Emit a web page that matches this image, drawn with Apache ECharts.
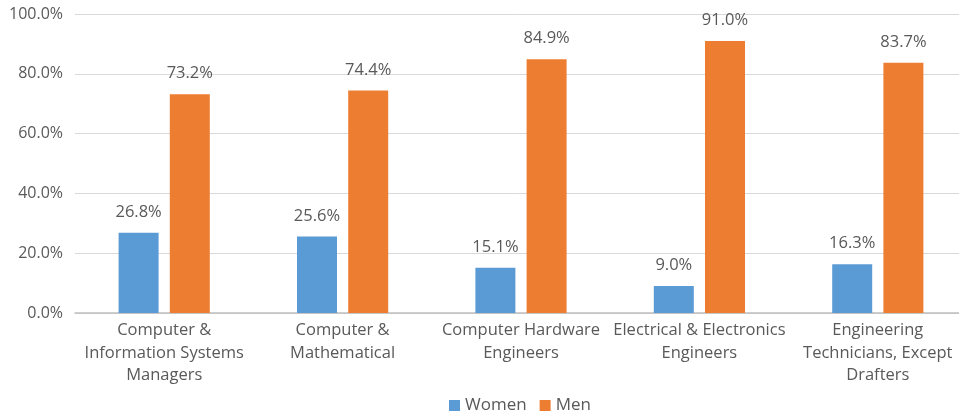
<!DOCTYPE html>
<html>
<head>
<meta charset="utf-8">
<script src="https://cdn.jsdelivr.net/npm/echarts@6/dist/echarts.min.js"></script>
<style>
  html, body { margin: 0; padding: 0; background: #fff; }
  #container { width: 959px; height: 419px; }
</style>
</head>
<body>
<div id="container"></div>
<script>
var categories = [
  'Computer &\nInformation Systems\nManagers',
  'Computer &\nMathematical',
  'Computer Hardware\nEngineers',
  'Electrical & Electronics\nEngineers',
  'Engineering\nTechnicians, Except\nDrafters'
];
var women = [26.8, 25.6, 15.1, 9.0, 16.3];
var men = [73.2, 74.4, 84.9, 91.0, 83.7];

var font = 'Open Sans';
var textColor = '#595959';

var myChart = echarts.init(document.getElementById('container'));

var labelOpt = {
  show: true,
  position: 'top',
  distance: 12,
  color: textColor,
  fontFamily: font,
  fontSize: 16.5,
  formatter: function (p) { return p.value.toFixed(1) + '%'; }
};

var option = {
  animation: false,
  color: ['#5B9BD5', '#ED7D31'],
  grid: {
    left: 75, width: 892, top: 14, height: 299,
    containLabel: false, outerBoundsMode: 'none'
  },
  legend: {
    top: 397,
    left: 449,
    padding: 0,
    itemWidth: 11,
    itemHeight: 11,
    itemGap: 13,
    icon: 'rect',
    textStyle: { color: textColor, fontFamily: font, fontSize: 17 },
    data: ['Women', 'Men']
  },
  xAxis: {
    type: 'category',
    data: categories,
    axisTick: { show: false },
    axisLine: { lineStyle: { color: '#BFBFBF', width: 1.5 } },
    axisLabel: {
      color: textColor,
      fontFamily: font,
      fontSize: 16.5,
      lineHeight: 22.7,
      margin: 6,
      interval: 0
    }
  },
  yAxis: {
    type: 'value',
    min: 0,
    max: 100,
    interval: 20,
    axisLine: { show: false },
    axisTick: { show: false },
    splitLine: { lineStyle: { color: '#D9D9D9', width: 1 } },
    axisLabel: {
      color: textColor,
      fontFamily: font,
      fontSize: 16,
      margin: 12,
      formatter: function (v) { return v.toFixed(1) + '%'; }
    }
  },
  series: [{
    name: 'Women',
    type: 'bar',
    data: women,
    barWidth: 40,
    barGap: '28%',
    label: labelOpt
  }, {
    name: 'Men',
    type: 'bar',
    data: men,
    barWidth: 40,
    label: labelOpt
  }]
};

myChart.setOption(option);
</script>
</body>
</html>
